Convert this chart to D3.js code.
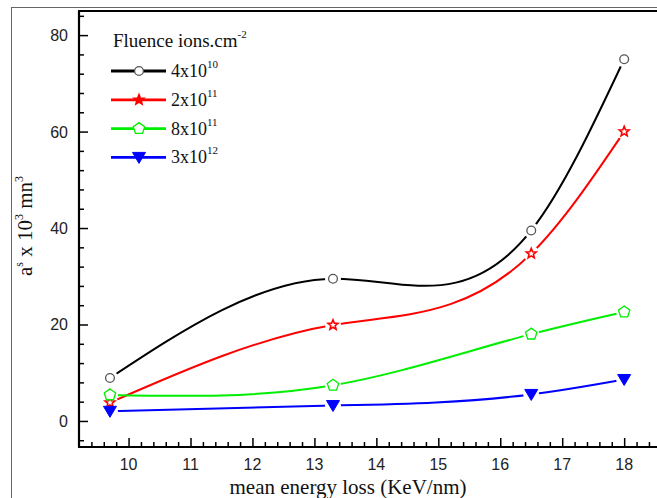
<!DOCTYPE html>
<html>
<head>
<meta charset="utf-8">
<script src="https://cdn.jsdelivr.net/npm/d3@7"></script>
<style>
  html, body { margin: 0; padding: 0; background: #fff; }
  svg { display: block; }
</style>
</head>
<body>
<svg id="chart" width="657" height="498"></svg>
<script>
// Mean energy loss (KeV/nm) for each measurement
const energyLoss = [9.7, 13.3, 16.5, 18];

// a^s x 10^3 (mn^3) for each fluence
const fluenceLabels = ["4x10", "2x10", "8x10", "3x10"];
const fluenceExponents = ["10", "11", "11", "12"];
const series4e10 = [8.9, 29.5, 39.5, 75.0];
const series2e11 = [3.8, 19.9, 34.7, 60.0];
const series8e11 = [5.4, 7.4, 18.0, 22.6];
const series3e12 = [2.0, 3.2, 5.5, 8.6];

const xTicks = [10, 11, 12, 13, 14, 15, 16, 17, 18];
const yTicks = [0, 20, 40, 60, 80];

const seriesList = [
  { values: series4e10, color: "#000000", marker: "circle" },
  { values: series2e11, color: "#ff0000", marker: "star" },
  { values: series8e11, color: "#00ee00", marker: "pentagon" },
  { values: series3e12, color: "#0000ff", marker: "triangle" }
];

const svg = d3.select("#chart");
const W = 657, H = 498;
const plot = { left: 79, top: 11, bottom: 447 };

const x = d3.scaleLinear().domain([9.2, 18.53]).range([plot.left, 657]);
const y = d3.scaleLinear().domain([-5.4, 85]).range([plot.bottom, plot.top]);

// Natural cubic spline in x (non-uniform knots), emitted as Bezier segments
function curveSplineX(context) {
  let pts = [];
  return {
    areaStart() {}, areaEnd() {},
    lineStart() { pts = []; },
    point(px, py) { pts.push([+px, +py]); },
    lineEnd() {
      const n = pts.length;
      if (!n) return;
      context.moveTo(pts[0][0], pts[0][1]);
      if (n < 3) { for (let i = 1; i < n; i++) context.lineTo(pts[i][0], pts[i][1]); return; }
      const h = [], d = [];
      for (let i = 0; i < n - 1; i++) {
        h.push(pts[i + 1][0] - pts[i][0]);
        d.push((pts[i + 1][1] - pts[i][1]) / h[i]);
      }
      // tridiagonal solve for second derivatives (natural ends)
      const M = new Array(n).fill(0);
      const a = [], b = [], c = [], r = [];
      for (let i = 1; i < n - 1; i++) {
        a.push(h[i - 1]); b.push(2 * (h[i - 1] + h[i])); c.push(h[i]);
        r.push(6 * (d[i] - d[i - 1]));
      }
      const m = b.length;
      for (let i = 1; i < m; i++) {
        const w = a[i] / b[i - 1];
        b[i] -= w * c[i - 1];
        r[i] -= w * r[i - 1];
      }
      const sol = new Array(m);
      sol[m - 1] = r[m - 1] / b[m - 1];
      for (let i = m - 2; i >= 0; i--) sol[i] = (r[i] - c[i] * sol[i + 1]) / b[i];
      for (let i = 0; i < m; i++) M[i + 1] = sol[i];
      for (let i = 0; i < n - 1; i++) {
        const s0 = d[i] - h[i] * (2 * M[i] + M[i + 1]) / 6;
        const s1 = d[i] + h[i] * (M[i] + 2 * M[i + 1]) / 6;
        const k = h[i] / 3;
        context.bezierCurveTo(
          pts[i][0] + k, pts[i][1] + s0 * k,
          pts[i + 1][0] - k, pts[i + 1][1] - s1 * k,
          pts[i + 1][0], pts[i + 1][1]);
      }
    }
  };
}

// page frame
svg.append("line").attr("x1", 11).attr("y1", 7.5).attr("x2", W).attr("y2", 7.5)
  .attr("stroke", "#666").attr("stroke-width", 1);
svg.append("line").attr("x1", 11.5).attr("y1", 7).attr("x2", 11.5).attr("y2", H)
  .attr("stroke", "#666").attr("stroke-width", 1);

// markers
function starPath(ro, ri) {
  const pts = [];
  for (let i = 0; i < 10; i++) {
    const ang = -Math.PI / 2 + i * Math.PI / 5;
    const rr = i % 2 ? ri : ro;
    pts.push([rr * Math.cos(ang), rr * Math.sin(ang)]);
  }
  return "M" + pts.map(p => p[0].toFixed(2) + "," + p[1].toFixed(2)).join("L") + "Z";
}
function markerPath(type) {
  if (type === "circle") return d3.symbol(d3.symbolCircle, 60)();
  if (type === "star") return starPath(5.2, 2.3);
  if (type === "pentagon") {
    const r = 6, pts = [];
    for (let i = 0; i < 5; i++) {
      const ang = -Math.PI / 2 + i * 2 * Math.PI / 5;
      pts.push([r * Math.cos(ang), r * Math.sin(ang)]);
    }
    return "M" + pts.map(p => p.join(",")).join("L") + "Z";
  }
  return "M-6.5,-5L6.5,-5L0,6Z";
}
function drawMarker(g, type, color, cx, cy, filledStar) {
  const p = g.append("path").attr("d", markerPath(type))
    .attr("transform", `translate(${cx},${cy})`);
  if (type === "circle") p.attr("fill", "#fff").attr("stroke", "#555").attr("stroke-width", 1.3);
  else if (type === "star") p.attr("fill", filledStar ? color : "#fff").attr("stroke", color).attr("stroke-width", 1.6);
  else if (type === "pentagon") p.attr("fill", "#fff").attr("stroke", color).attr("stroke-width", 1.3);
  else p.attr("fill", color).attr("stroke", color).attr("stroke-width", 1);
}

// axes with inward ticks
const yAxis = d3.axisRight(y).tickValues(yTicks).tickSize(9).tickFormat("");
const yMinor = d3.axisRight(y).tickValues(d3.range(-4, 85, 4).filter(v => v % 20 !== 0)).tickSize(5).tickFormat("");
const xAxis = d3.axisTop(x).tickValues(xTicks).tickSize(9).tickFormat("");
const xMinor = d3.axisTop(x).tickValues(d3.range(9.4, 18.6, 0.2).filter(v => Math.abs(v - Math.round(v)) > 0.01)).tickSize(5).tickFormat("");

function styleAxis(g) {
  g.select(".domain").remove();
  g.selectAll(".tick line").attr("stroke", "#000").attr("stroke-width", 1.5);
}
svg.append("g").attr("transform", `translate(${plot.left},0)`).call(yAxis).call(styleAxis);
svg.append("g").attr("transform", `translate(${plot.left},0)`).call(yMinor).call(styleAxis);
svg.append("g").attr("transform", `translate(0,${plot.bottom})`).call(xAxis).call(styleAxis);
svg.append("g").attr("transform", `translate(0,${plot.bottom})`).call(xMinor).call(styleAxis);

// tick labels
const sans = "Arial, 'Liberation Sans', sans-serif";
svg.append("g").selectAll("text").data(yTicks).join("text")
  .attr("x", 68).attr("y", d => y(d) + 6).attr("text-anchor", "end")
  .attr("font-family", sans).attr("font-size", 16)
  .attr("fill", "#222").text(d => d);
svg.append("g").selectAll("text").data(xTicks).join("text")
  .attr("x", d => x(d)).attr("y", 470).attr("text-anchor", "middle")
  .attr("font-family", sans).attr("font-size", 16)
  .attr("fill", "#222").text(d => d);

// plot frame lines
svg.append("line").attr("x1", plot.left).attr("y1", plot.top).attr("x2", plot.left).attr("y2", plot.bottom)
  .attr("stroke", "#000").attr("stroke-width", 2.2);
svg.append("line").attr("x1", plot.left - 1).attr("y1", plot.bottom).attr("x2", W).attr("y2", plot.bottom)
  .attr("stroke", "#000").attr("stroke-width", 2.2);
svg.append("line").attr("x1", plot.left - 1).attr("y1", plot.top).attr("x2", W).attr("y2", plot.top)
  .attr("stroke", "#000").attr("stroke-width", 2.2);

// axis titles
const serif = "'Liberation Serif', 'DejaVu Serif', serif";
svg.append("text").attr("x", 348).attr("y", 494).attr("text-anchor", "middle")
  .attr("font-family", serif).attr("font-size", 21).attr("fill", "#111")
  .text("mean energy loss (KeV/nm)");

const yl = svg.append("text").attr("transform", "translate(32,226) rotate(-90)")
  .attr("text-anchor", "middle").attr("font-family", serif).attr("font-size", 21).attr("fill", "#111");
yl.append("tspan").text("a");
yl.append("tspan").attr("dy", -9).attr("font-size", 12).text("s");
yl.append("tspan").attr("dy", 9).text(" x 10");
yl.append("tspan").attr("dy", -9).attr("font-size", 12).text("3");
yl.append("tspan").attr("dy", 9).text("  mn");
yl.append("tspan").attr("dy", -9).attr("font-size", 12).text("3");

// series curves, with small gaps around each marker
const defs = svg.append("defs");
const line = d3.line().x(d => x(d[0])).y(d => y(d[1])).curve(curveSplineX);
seriesList.forEach((s, i) => {
  const pts = energyLoss.map((e, j) => [e, s.values[j]]);
  const mask = defs.append("mask").attr("id", "gap" + i).attr("maskUnits", "userSpaceOnUse")
    .attr("x", 0).attr("y", 0).attr("width", W).attr("height", H);
  mask.append("rect").attr("width", W).attr("height", H).attr("fill", "#fff");
  pts.forEach(p => mask.append("circle").attr("cx", x(p[0])).attr("cy", y(p[1])).attr("r", 8).attr("fill", "#000"));
  svg.append("path").datum(pts).attr("d", line).attr("fill", "none")
    .attr("stroke", s.color).attr("stroke-width", 2).attr("mask", `url(#gap${i})`);
});
seriesList.forEach(s => {
  const g = svg.append("g");
  energyLoss.forEach((e, j) => drawMarker(g, s.marker, s.color, x(e), y(s.values[j]), false));
});

// legend
const lg = svg.append("g");
const title = lg.append("text").attr("x", 113).attr("y", 47).attr("font-family", serif)
  .attr("font-size", 19).attr("fill", "#111");
title.append("tspan").text("Fluence ions.cm");
title.append("tspan").attr("dy", -9).attr("font-size", 11).text("-2");
seriesList.forEach((s, i) => {
  const ly = 71 + i * 28.8;
  lg.append("line").attr("x1", 111).attr("x2", 166).attr("y1", ly).attr("y2", ly)
    .attr("stroke", s.color).attr("stroke-width", 2.8);
  drawMarker(lg, s.marker, s.color, 139, ly, true);
  const t = lg.append("text").attr("x", 171).attr("y", ly + 6).attr("font-family", serif)
    .attr("font-size", 18).attr("fill", "#111");
  t.append("tspan").text(fluenceLabels[i]);
  t.append("tspan").attr("dy", -9).attr("font-size", 11).text(fluenceExponents[i]);
});
</script>
</body>
</html>
